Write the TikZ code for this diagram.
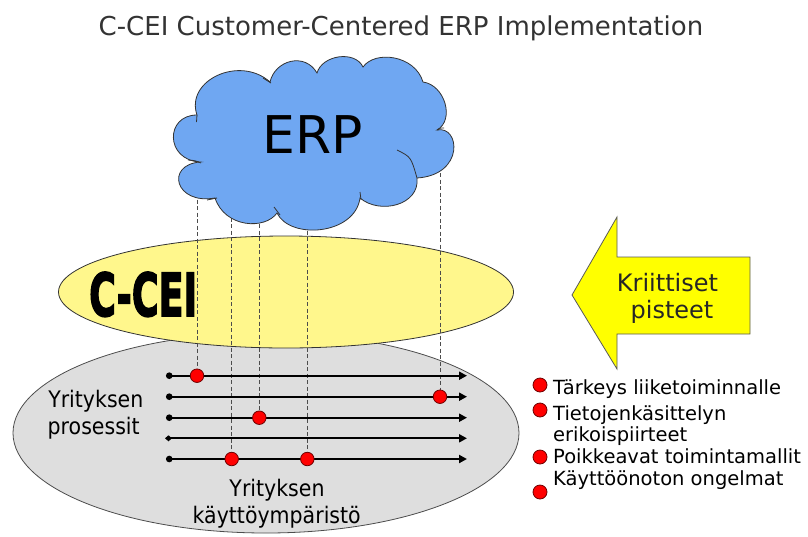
\documentclass[tikz,border=0pt]{standalone}
\usepackage{graphicx}
\usepackage{fontspec}
\setmainfont{DejaVu Sans}
\newfontfamily\condfont[FakeStretch=0.9]{DejaVu Sans}
\newfontfamily\heavyfont[FakeBold=3]{DejaVu Sans Bold}
\usetikzlibrary{arrows.meta}

\definecolor{cloudblue}{RGB}{111,167,242}
\definecolor{cceiyellow}{RGB}{255,247,140}
\definecolor{envgrey}{RGB}{222,222,222}
\definecolor{arrowyellow}{RGB}{255,255,0}
\definecolor{titlegrey}{RGB}{51,51,51}
\definecolor{dotred}{RGB}{255,0,0}
\definecolor{dotedge}{RGB}{110,0,0}

\tikzset{
  proc/.style={line width=2pt, {Circle[length=6.5pt]}-{Triangle[length=8pt,width=8pt]}},
  procdiamond/.style={line width=2pt, {Diamond[length=7pt,width=6pt]}-{Triangle[length=8pt,width=8pt]}},
  rdot/.style={circle, fill=dotred, draw=dotedge, line width=0.8pt, minimum size=13.5pt, inner sep=0pt},
  ldot/.style={circle, fill=dotred, draw=dotedge, line width=0.8pt, minimum size=14pt, inner sep=0pt},
  guide/.style={draw=black!70, line width=0.9pt, dash pattern=on 4pt off 2.5pt},
  envtext/.style={inner sep=0pt, anchor=base, font=\condfont\fontsize{22.8}{26}\selectfont},
  legendtext/.style={inner sep=0pt, anchor=base west, font=\fontsize{19.5}{23}\selectfont},
  arrowtext/.style={inner sep=0pt, anchor=base, text=black!85, font=\fontsize{24}{28}\selectfont},
  outline/.style={draw=black!70, line width=0.8pt},
}

\begin{document}
\begin{tikzpicture}[x=1pt,y=-1pt]
\useasboundingbox (0,0) rectangle (808,536);

% title
\node[inner sep=0pt, anchor=base, text=titlegrey, font=\fontsize{26}{30}\selectfont]
  (title) at (401,35) {C-CEI Customer-Centered ERP Implementation};

% company environment and the C-CEI layer
\path[outline, fill=envgrey] (266,433) ellipse [x radius=253, y radius=100];
\path[outline, draw=black!80, fill=cceiyellow] (286,292) ellipse [x radius=227.5, y radius=56];
\node[inner sep=0pt, anchor=south west] (cceilabel) at (89,317)
  {\resizebox{108pt}{44pt}{\heavyfont C-CEI}};

% process lines: start and end points
\coordinate (p1s) at (166,375.7); \coordinate (p1e) at (467,375.7);
\coordinate (p2s) at (166,396.7); \coordinate (p2e) at (467,396.7);
\coordinate (p3s) at (166,417.7); \coordinate (p3e) at (467,417.7);
\coordinate (p4s) at (165,438.3); \coordinate (p4e) at (467,438.3);
\coordinate (p5s) at (166,459);   \coordinate (p5e) at (467,459);

% critical points on the processes
\coordinate (c1) at (197,375.7);
\coordinate (c2) at (440,396.7);
\coordinate (c3) at (259.3,417.7);
\coordinate (c4) at (231.7,459);
\coordinate (c5) at (307.3,459);

% dashed links from the cloud down to the critical points
\coordinate (g1) at (197,180);
\coordinate (g2) at (440,160);
\coordinate (g3) at (259.3,185);
\coordinate (g4) at (231.7,185);
\coordinate (g5) at (307.3,185);
\draw[guide] (g1) -- (c1);
\draw[guide] (g2) -- (c2);
\draw[guide] (g3) -- (c3);
\draw[guide] (g4) -- (c4);
\draw[guide] (g5) -- (c5);

\draw[proc] (p1s) -- (p1e);
\draw[proc] (p2s) -- (p2e);
\draw[proc] (p3s) -- (p3e);
\draw[procdiamond] (p4s) -- (p4e);
\draw[proc] (p5s) -- (p5e);

\node[rdot] (d1) at (c1) {};
\node[rdot] (d2) at (c2) {};
\node[rdot] (d3) at (c3) {};
\node[rdot] (d4) at (c4) {};
\node[rdot] (d5) at (c5) {};

% environment labels
\node[envtext] (proc1) at (95.8,407.3) {Yrityksen};
\node[envtext] (proc2) at (93.7,434) {prosessit};
\node[envtext] (env1) at (277,496.7) {Yrityksen};
\node[envtext] (env2) at (276.7,523.3) {käyttöympäristö};

% ERP cloud
\path[outline, draw=black!80, fill=cloudblue] (197,115)
  .. controls (185,80) and (240,55) .. (270,82)
  .. controls (275,60) and (305,52) .. (317,73)
  .. controls (322,55) and (355,50) .. (363,67)
  .. controls (375,50) and (415,55) .. (423,82)
  .. controls (445,85) and (455,120) .. (437,130)
  .. controls (460,125) and (465,175) .. (417,178)
  .. controls (420,205) and (380,215) .. (360,198)
  .. controls (355,235) and (290,240) .. (277,213)
  .. controls (265,230) and (225,228) .. (215,198)
  .. controls (175,205) and (165,165) .. (200,162)
  .. controls (165,160) and (165,115) .. (197,115) -- cycle;
% inner puff creases
\draw[outline, draw=black!80] (197,115) .. controls (196,118) .. (196.5,122);
\draw[outline, draw=black!80] (188,160) .. controls (195,160.5) .. (201,163);
\draw[outline, draw=black!80] (207,200) .. controls (212,198.5) .. (217,198);
\draw[outline, draw=black!80] (274,207) .. controls (277,211) .. (280,215);
\draw[outline, draw=black!80] (360,192) .. controls (360.5,196) .. (361,200);
\draw[outline, draw=black!80] (397,150) .. controls (411,157) .. (417,178);
\draw[outline, draw=black!80] (263,78) .. controls (267,80) .. (271,83);
\draw[outline, draw=black!80] (437,130) .. controls (440,128) .. (444,128);
\node[inner sep=0pt, font=\fontsize{52}{60}\selectfont] (erp) at (313,135) {ERP};

% "critical points" arrow
\path[outline, draw=black!65, fill=arrowyellow]
  (572,295) -- (617,217) -- (617,257) -- (750,257) -- (750,334)
  -- (617,334) -- (617,369) -- cycle;
\node[arrowtext] (krit1) at (667.5,291.5) {Kriittiset};
\node[arrowtext] (krit2) at (672,318) {pisteet};

% legend
\node[ldot] (l1) at (540,385) {};
\node[ldot] (l2) at (540,410) {};
\node[ldot] (l3) at (540,457) {};
\node[ldot] (l4) at (540,492) {};
\node[legendtext] (t1) at (553,394) {Tärkeys liiketoiminnalle};
\node[legendtext] (t2) at (553,420) {Tietojenkäsittelyn};
\node[legendtext] (t3) at (553,441.7) {erikoispiirteet};
\node[legendtext] (t4) at (553,463.3) {Poikkeavat toimintamallit};
\node[legendtext] (t5) at (553,485) {Käyttöönoton ongelmat};
\end{tikzpicture}
\end{document}
